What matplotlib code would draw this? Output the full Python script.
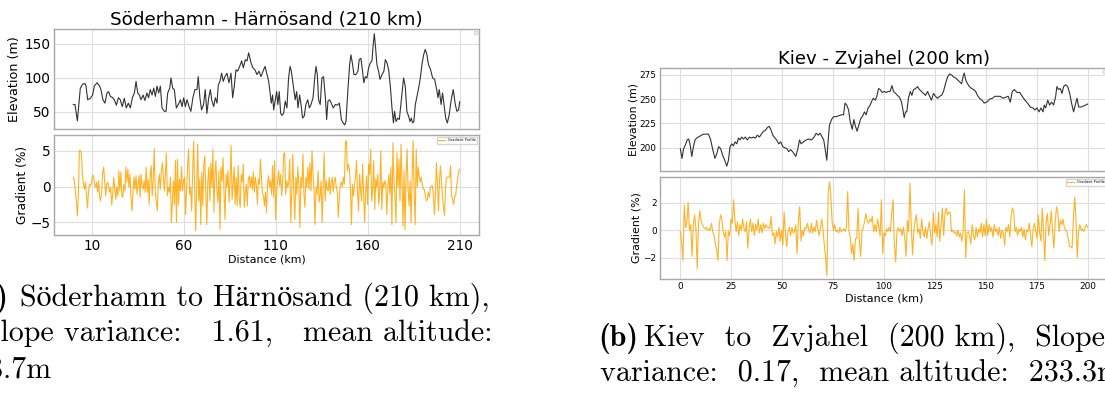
import numpy as np
import matplotlib
matplotlib.use("Agg")
import matplotlib.pyplot as plt

# ---- (a) Söderhamn - Härnösand, elevation profile (km, m)
dist_a = [0, 0.9, 2.2, 3.8, 5.1, 6.3, 6.9, 7.8, 9.2, 10.5, 11.4, 12.9, 14.1, 15.0, 16.1, 17.2, 18.3, 19.2, 20.1, 21.4,
          22.3, 23.4, 24.5, 25.5, 26.6, 27.7, 28.8, 29.9, 31.0, 32.1, 33.2, 34.1, 35.0, 35.9, 36.8, 37.9, 38.9, 40.0, 40.9, 41.8,
          42.8, 43.7, 44.6, 45.5, 46.4, 47.3, 48.2, 49.5, 50.4, 51.3, 52.4, 53.1, 54.0, 54.9, 56.0, 57.1, 58.2, 59.1, 60.0, 60.9,
          61.8, 62.9, 63.9, 65.0, 66.1, 67.2, 67.9, 68.8, 69.7, 70.8, 71.7, 72.6, 73.6, 74.5, 75.2, 76.3, 77.2, 78.1, 78.8, 79.7,
          80.6, 81.5, 82.4, 83.5, 84.6, 85.7, 86.6, 87.5, 88.4, 89.3, 90.4, 91.5, 92.4, 93.5, 94.4, 95.3, 96.6, 97.6, 98.7, 99.8,
          100.9, 102.0, 103.1, 104.2, 105.3,
          106.2, 107.1, 107.6, 108.3, 108.9, 109.8, 110.5, 111.2, 111.9, 112.7, 113.4, 114.3, 115.2, 116.1, 117.0, 117.8, 118.5, 119.6, 120.6, 121.4,
          122.1, 123.0, 123.9, 124.6, 125.5, 126.4, 127.4, 128.3, 129.2, 130.3, 131.2, 131.9, 132.6, 133.3, 134.2, 135.1, 136.0, 137.0, 137.7, 138.4,
          139.3, 140.2, 141.3, 142.4, 143.5, 144.6, 145.7, 146.6, 147.5, 148.2, 149.3, 150.2, 150.9, 151.8, 152.5, 153.6, 154.7, 155.4, 156.3, 157.2,
          157.9, 158.7, 159.6, 160.5, 161.4, 162.3, 163.0, 163.6, 164.3, 165.0, 165.9, 166.7, 167.8, 168.8, 169.6, 170.5, 171.4, 172.3, 173.2, 174.0,
          174.6, 175.4, 176.3, 177.2, 177.9, 178.8, 179.5, 180.4, 181.3, 182.2, 183.0, 183.7, 184.4, 185.1, 185.9, 186.8, 187.7, 188.6, 189.5, 190.4,
          191.3, 192.2, 193.0, 194.2, 195.3, 196.4, 197.5, 198.2, 198.9, 199.9, 200.7, 201.4, 202.4, 203.3, 204.3, 205.4, 206.5, 207.6, 208.5, 209.4,
          210.0]
elev_a = [61, 61, 37, 85, 91, 92, 88, 68, 70, 75, 88, 93, 89, 83, 68, 63, 78, 80, 73, 71,
          68, 60, 71, 68, 58, 70, 56, 63, 56, 71, 78, 95, 78, 75, 68, 75, 67, 78, 71, 83,
          75, 85, 73, 88, 78, 88, 56, 51, 51, 78, 85, 100, 85, 83, 56, 61, 68, 58, 71, 58,
          68, 58, 51, 71, 83, 83, 102, 71, 53, 61, 83, 48, 71, 83, 68, 58, 71, 63, 90, 95,
          107, 95, 102, 107, 93, 107, 71, 88, 112, 110, 117, 125, 115, 127, 125, 137, 122, 115, 112, 105,
          110, 102, 110, 117, 105,
          95, 75, 63, 75, 53, 68, 80, 61, 80, 48, 45, 48, 66, 56, 100, 117, 110, 88, 68, 80,
          56, 75, 58, 41, 44, 61, 68, 56, 61, 71, 100, 117, 105, 68, 61, 100, 102, 71, 39, 66,
          68, 63, 56, 61, 60, 63, 39, 34, 31, 36, 85, 120, 134, 120, 105, 105, 110, 127, 129, 110,
          93, 102, 100, 115, 122, 125, 149, 165, 144, 120, 110, 98, 105, 110, 127, 122, 112, 88, 56, 34,
          51, 36, 41, 39, 58, 83, 100, 88, 51, 44, 36, 41, 34, 36, 61, 73, 85, 100, 120, 134,
          142, 134, 120, 112, 100, 98, 83, 71, 83, 61, 78, 63, 41, 34, 46, 68, 83, 61, 51, 53,
          65]

# gradient samples (%), evenly spaced along the 210 km route
grad_a = [1.3, 0.8, -0.6, -2.0, -4.1, -1.1, 5.0, 5.0, 4.5, 1.7, 0.3, -0.4, 0.6, -1.1, -3.0, -0.8, 0.3, 0.1, 0.6, 1.5,
          1.5, 0.3, -0.1, 0.6, -0.8, 0.8, -1.5, -2.0, -0.8, 2.0, 2.7, 0.8, -1.3, 0.3, 0.6, -0.1, -0.8, -0.1, -2.6, -0.8,
          1.3, -0.4, -1.8, -0.1, -1.3, 2.2, -0.6, 2.0, -1.3, -1.5, 0.3, -0.6, 2.7, 0.6, 2.4, -0.1, 1.7, -1.5, -3.4, -0.8,
          1.3, -0.4, 1.5, -1.1, 0.3, 1.5, -1.5, 1.7, 0.1, -0.4, 0.8, -0.8, 2.7, -0.8, 1.0, -2.5, 1.7, 2.9, -1.3, 0.8,
          5.3, -0.8, -2.0, -3.4, 0.3, 1.7, -0.4, 2.2, 3.3, 1.3, -0.6, 1.7, 4.7, -1.3, -0.1, -0.8, 1.3, -5.0, -2.0, 0.8,
          -2.5, 3.6, -5.0, 3.8, -2.5, 1.0, -0.6, 2.7, -0.6, 0.8, 1.3, -3.9, -0.4, 2.9, 5.2, -1.1, -0.1, -3.4, 2.2, 6.3,
          -0.6, -6.2, 0.3, 5.9, -2.0, 1.0, -5.3, 2.0, -2.7, 3.1, 4.3, -0.8, -5.3, 0.8, 2.7, -2.0, 3.3, -0.1, 5.2, -3.6,
          1.7, 3.6, -0.6, -2.2, 2.2, -6.0, 2.7, 0.8, 4.0, -0.8, -4.6, 1.7, -0.1, 2.2, -2.2, 0.8, 5.7, -1.8, 0.3, 2.7,
          -2.5, 1.3, -2.7, 2.9, -1.5, -2.9, 1.7, 0.6, 3.1, -2.9, -0.8, 0.3, -2.7, 1.0, 1.5, -0.1, 1.3, -0.4, 2.0, -0.8,
          1.3, 0.1, -2.5, 1.0, 0.3, 3.8, 1.3, -1.1, -1.3, -2.7, -0.8,
          -3.6, 0.3, 1.5, -0.1, 0.8, -1.1, 2.9, -1.5, 3.6, -4.6, -0.8, 0.8, 2.2, 0.1, 1.7, -1.3, 0.8, 4.5, 4.7, -1.1,
          0.8, -0.1, 0.6, 3.8, -5.0, -0.6, 4.5, -0.8, -4.6, 1.3, -1.1, 2.7, 0.1, -5.7, 1.3, -0.1, 4.5, -1.1, -2.9, 1.3,
          -0.1, 2.7, -0.4, 3.3, -0.6, 5.0, 1.7, -0.4, -5.3, -0.1, -1.1, 2.2, -2.2, -1.3, 0.8, -5.0, -0.1, 4.7, -2.0, 0.8,
          -0.4, -0.6, 1.3, -1.1, 0.6, 1.3, -0.8, 0.8, 1.3, -0.1, -0.8, -4.3, -1.5, 0.3, 0.6, -0.1, 1.3, 0.3, 6.1, 6.4,
          2.2, 3.1, 2.4, -0.4, -5.3, 0.3, -1.3, 0.1, 1.3, 3.6, -0.8, -3.4, 1.7, -0.4, -2.0, 3.1, -0.8, -5.0, -1.1, 1.5,
          -2.5, 3.1, 1.7, 5.2, -2.0, -0.4, 3.6, -3.2, 1.0, -0.1, 1.7, -2.5, -0.6, 5.0, -3.2, 0.6, -0.1, 0.8, 0.3, -3.9,
          -0.1, 1.7, -1.1, 2.7, -5.3, 6.1, 0.8, -1.3, -5.0, 4.7, -0.1, 3.8, -2.0, 5.9, 0.8, -5.5, 2.2, -6.0, 1.3, 5.2,
          -0.4, -2.7, 0.8, -5.0, 1.3, 6.4, -0.8, -5.3, 5.2, -0.1, 2.7, 1.5, 0.6, 1.3, 0.3, -0.4, -0.4, -1.3, -2.0, -1.8,
          -0.8, -1.5, -0.1, 0.1, 0.1, -1.3, -3.9, -1.1, 3.3, 0.3, -3.4, 0.8, 2.9, 0.8, -1.5, -2.9, -4.1, -0.1, 1.3, 1.3,
          1.3, 1.3, 2.9, -1.3, -1.8, -2.5, -1.3, -1.3, 0.1, 1.0, 2.2, 2.4]

# ---- (b) Kiev - Zvjahel
dist_b = [0, 0.8, 1.6, 2.5, 3.3, 4.1, 4.8, 5.6, 6.4, 7.2, 8.0, 9.7, 11.3, 13.8, 14.9, 15.9, 17.0, 17.9, 18.8, 19.8,
          20.8, 21.8, 22.8, 23.6, 24.4, 25.2, 26.0, 26.9, 27.7, 28.5, 29.3, 30.1, 31.0, 31.9, 32.9, 33.9, 34.9, 35.9, 36.9, 37.8,
          38.8, 39.8, 40.8, 41.8, 42.8, 43.6, 44.4, 45.4, 46.4, 47.3, 48.3, 49.3, 50.3, 51.3, 52.3, 53.2, 54.2, 55.5, 56.7, 57.7,
          58.5, 59.3, 60.4, 61.8, 63.1, 64.4, 65.7, 66.7, 67.7, 68.6, 69.6, 70.4, 71.3, 71.9, 72.6, 73.2, 74.2, 75.2, 76.5, 77.8,
          79.1, 80.1, 80.9, 81.7, 82.6, 83.4, 84.4, 85.2, 86.0, 86.8, 87.6, 88.6, 89.6, 90.4, 91.2, 92.2, 93.2, 94.2, 94.8, 95.7,
          96.5, 97.3, 98.1, 99.1, 100.1, 101.1, 102.0, 103.0, 103.9, 104.7, 105.7, 106.6, 107.6, 108.6, 109.3, 109.9, 110.6, 111.2, 112.0, 112.9,
          113.7, 114.5, 115.5, 116.5, 117.4, 118.4, 119.4, 120.4, 121.4, 122.4, 123.3, 124.3, 125.3, 126.3, 127.3, 128.3, 129.2, 130.2, 131.2, 132.2,
          133.2, 134.2, 135.1, 136.1, 137.1, 138.1, 138.8, 139.4, 140.1, 141.0, 142.0, 143.0, 144.0, 145.0, 145.9, 146.9, 148.1, 149.2, 150.5, 151.8,
          153.2, 154.5, 155.8, 157.1, 158.4, 159.7, 161.0, 162.0, 163.0, 164.0, 165.3, 166.6, 167.9, 169.2, 170.5, 171.8, 173.1, 174.1, 175.1, 176.1,
          177.1, 178.1, 178.7, 179.4, 180.4, 181.3, 182.3, 183.3, 184.3, 184.9, 185.7, 186.6, 187.4, 188.2, 189.2, 190.2, 191.2, 192.1, 193.1, 193.9,
          194.8, 195.6, 196.7, 198.0, 199.0, 200.0]
elev_b = [199, 189, 199, 203, 208, 209, 203, 191, 201, 208, 210, 212, 214, 214, 208, 198, 189, 194, 201, 199,
          192, 187, 181, 187, 201, 204, 202, 206, 204, 210, 208, 211, 209, 211, 208, 211, 210, 211, 210, 213,
          211, 214, 217, 218, 221, 222, 219, 213, 210, 208, 204, 206, 201, 200, 199, 196, 198, 195, 191, 199,
          208, 204, 206, 208, 209, 208, 211, 215, 213, 215, 211, 208, 196, 187, 208, 223, 229, 232, 232, 233,
          234, 234, 246, 244, 239, 227, 219, 229, 222, 217, 223, 230, 233, 237, 234, 241, 244, 249, 251, 249,
          253, 261, 260, 257, 258, 257, 258, 258, 264, 258, 256, 254, 252, 247, 239, 231, 237, 237, 251, 258,
          254, 260, 261, 263, 260, 258, 256, 254, 258, 253, 249, 256, 253, 251, 253, 254, 258, 266, 273, 276,
          275, 273, 272, 270, 268, 266, 273, 277, 270, 266, 263, 261, 260, 258, 254, 251, 249, 246, 247, 250,
          251, 253, 253, 253, 251, 252, 253, 247, 258, 260, 257, 257, 253, 249, 246, 242, 241, 239, 241, 237,
          241, 237, 244, 241, 249, 244, 247, 244, 253, 263, 260, 261, 256, 263, 265, 263, 256, 246, 237, 244,
          251, 242, 242, 243, 244, 245]

grad_b = [-0.1, -1.0, -2.2, 1.8, 0.2, 0.5, 2.0, 0, 0.4, -1.9, 0.4, 1.1, 0.1, -2.8, 0.5, 1.4, 0.7, 0.4, 0.2, 0.1,
          0.2, 0, 0.1, 0, 0.5, -0.1, -0.4, -1.0, -1.4, -2.2, 0.4, 1.1, 0.8, -0.1, -0.5, -0.1, -2.2, -0.1, -0.4, 0.8,
          0.5, 2.2, 0.8, -0.1, 0.6, -0.4, 0.4, 0, 0.8, 0.1, -0.1, 0.6, -1.3, 0.1, 0.8, -0.1, 0.5, -0.4, 0.4, 0,
          0.8, -0.2, 0.4, -0.2, 0.5, 0.1, 0.4, 0.2, 0.2, 0.1, 1.0, -0.4, -0.2, -1.0, -0.1, -0.5, 0.2, -0.8, 0, -1.1,
          1.3, -0.2, -1.2, -0.1, 0.2, -0.4, 0.2, -0.2, -0.1, 0.4, -1.7, 0.7, 1.7, -0.8, 0, -0.4, 0.2, 0.1, 0.5, 0,
          -0.2, 0.5, -0.2, 0.2, -0.1, 0.7, 0.1, -0.4, 0.2, 0.8, 0, -1.1, -2.0, -3.3, 2.8, 3.5, 2.5, 0.6, 0, 0.4,
          -0.1, 0, -0.2, 0.2, -0.1, 0, 0.1, -0.1, 0.2, 2.8, -0.1, -0.5, -1.7, -1.0, -2.2, -0.6, -0.6, 1.6, -0.8, -1.9,
          -0.1, 0.2, 0.6, 1.2, 0.7, 0.5, 0.8, 0.6, 1.0, -0.1, 0.4, -0.1, 0.8, 0.2, -0.4, 2.2, -1.7, -0.2, -0.4, 0.1,
          -0.1, 0.2, -0.1, 1.3, 2.2, -1.1, -2.3, -0.1, 0.2, -0.1, 0.1, -0.4, 0.2, -0.6, -1.9, 0.7, -0.1, 3.4, 0.4, -1.8,
          -0.1, 0.7, 1.1, -0.2, 0.1, -0.6, 0.8, -0.1, -0.5, 0.2, -0.6, 0.1, 0.6, -0.4, -1.1, 1.3, -0.2, 0.4, -0.5, 1.3,
          -0.8, 0.4, 1.6, -0.4, 1.2, 1.6, 1.1, 1.3, 1.3, -0.1, 0, -0.2, -0.1, -0.4, 0, -0.5, -0.2, -0.8, -0.1, 2.9,
          -2.0, -0.2, -0.1, -0.5, -1.0, 0.4, -0.4, -0.7, 0.2, -0.5, 0.1, -0.2, 0.5, -0.5, 0.4, -0.4, 0.8, -0.4, 0.4, -0.1,
          0.2, -0.5, 0.4, -0.1, 0.1, -0.4, 0.2, -0.6, 0, -0.2, -1.1, 0.2, -0.1, 0.4, -0.5, 1.1, 1.6, 1.3, -0.1, 0.2,
          -0.4, 0.1, -0.1, 0.2, -0.5, 0.1, -0.7, 0, -0.1, 0.5, -0.4, -1.2, 0.1, 0.5, -0.1, -0.6, 1.1, -0.2, -0.8, 1.6,
          -0.1, -2.2, 0.6, 1.2, -0.4, 0.4, 1.4, -0.1, -1.3, 0.5, 1.7, 1.3, -0.1, 0.7, 0.4, 0.8, 0.2, 0, -0.1, -0.6,
          -1.2, -1.2, -1.3, 0.8, 2.4, 0.8, -2.0, -0.1, 0.4, 0, 0.1, -0.1, 0.2, 0.4, 0.2]

ticks_a = [10, 60, 110, 160, 210]
ticks_b = [0, 25, 50, 75, 100, 125, 150, 175, 200]

W, H = 1105, 394
fig = plt.figure(figsize=(W / 100, H / 100), dpi=100)


def box(l, t, r, b):
    return [l / W, 1 - b / H, (r - l) / W, (b - t) / H]


def style(ax, fs, pad):
    ax.grid(True, color='#dedede', lw=0.8)
    ax.set_axisbelow(True)
    for s in ax.spines.values():
        s.set_color('#a8a8a8')
        s.set_linewidth(1.0)
    ax.tick_params(length=0, labelsize=fs, pad=pad)


# ---------- left panel
ax1 = fig.add_axes(box(54, 29, 479, 129))
ax2 = fig.add_axes(box(54, 135, 479, 235))
ax1.plot(dist_a, elev_a, color='#333333', lw=0.8)
ax2.plot(np.linspace(0, 210, len(grad_a)), grad_a, color='#ffa500', lw=0.8, alpha=0.85, label='Gradient Profile')
for ax in (ax1, ax2):
    style(ax, 9.8, 2.6)
    ax.set_xlim(-10.5, 220.5)
    ax.set_xticks(ticks_a)
ax1.tick_params(labelbottom=False)
ax1.set_ylim(25, 172)
ax1.set_yticks([50, 100, 150])
ax2.set_ylim(-6.76, 7.18)
ax2.set_yticks([-5, 0, 5])
ax1.set_title('Söderhamn - Härnösand (210 km)', fontsize=13.2, pad=2)
ax1.set_ylabel('Elevation (m)', fontsize=9.2)
ax1.yaxis.set_label_coords(-0.077, 0.5)
ax2.set_ylabel('Gradient (%)', fontsize=8.8)
ax2.yaxis.set_label_coords(-0.058, 0.5)
ax2.set_xlabel('Distance (km)', fontsize=7.9)
ax2.xaxis.set_label_coords(0.5, -0.19)
ax1.legend(handles=[], loc='upper right', fontsize=2.5)
ax2.legend(loc='upper right', fontsize=2.5)

# ---------- right panel
ax3 = fig.add_axes(box(660, 68, 1108, 171))
ax4 = fig.add_axes(box(660, 177, 1108, 279))
ax3.plot(dist_b, elev_b, color='#333333', lw=0.8)
ax4.plot(np.linspace(0, 200, len(grad_b)), grad_b, color='#ffa500', lw=0.8, alpha=0.85, label='Gradient Profile')
for ax in (ax3, ax4):
    style(ax, 6.4, 2.5)
    ax.set_xlim(-10, 210)
    ax.set_xticks(ticks_b)
ax3.tick_params(labelbottom=False)
ax3.set_ylim(176, 282.2)
ax3.set_yticks([200, 225, 250, 275])
ax4.set_ylim(-3.54, 3.85)
ax4.set_yticks([-2, 0, 2])
ax3.set_title('Kiev - Zvjahel (200 km)', fontsize=13.1, pad=1.5)
ax3.set_ylabel('Elevation (m)', fontsize=7.8)
ax3.yaxis.set_label_coords(-0.049, 0.5)
ax4.set_ylabel('Gradient (%)', fontsize=7.9)
ax4.yaxis.set_label_coords(-0.041, 0.5)
ax4.set_xlabel('Distance (km)', fontsize=8)
ax4.xaxis.set_label_coords(0.5, -0.14)
ax3.legend(handles=[], loc='upper right', fontsize=2.5)
ax4.legend(loc='upper right', fontsize=2.5)

# ---------- captions (LaTeX-like serif)
serif = ['cmr10', 'STIXGeneral']
bold = ['cmb10', 'STIXGeneral']
cfs = 21.6


def cap(x, y, s, fam=serif):
    fig.text(x / W, 1 - y / H, s, fontfamily=fam, fontsize=cfs, va='baseline', ha='left')


cap(-30, 306, '(a)', bold)
cap(20, 306, 'Söderhamn to Härnösand (210 km),')
cap(-16, 342, 'Slope variance:   1.61,   mean altitude:')
cap(-26, 378, '88.7m')
cap(598, 346, '(b)', bold)
cap(644, 346, 'Kiev  to  Zvjahel  (200 km),  Slope')
cap(600, 382, 'variance:  0.17,  mean altitude:  233.3m')

fig.savefig('out.png', dpi=100)
